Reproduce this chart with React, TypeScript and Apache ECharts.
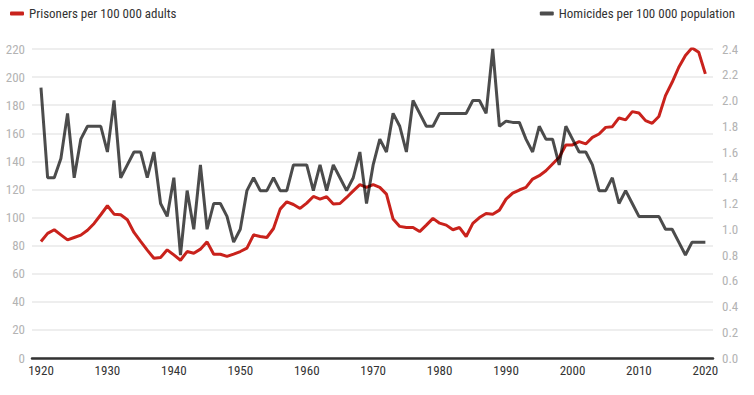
import React, { useEffect, useRef } from "react";
import * as echarts from "echarts";

const startYear = 1920;
const endYear = 2020;
const years: number[] = Array.from({ length: endYear - startYear + 1 }, (_, i) => startYear + i);

const prisonersName = "Prisoners per 100 000 adults";
const homicidesName = "Homicides per 100 000 population";

// Prisoners per 100 000 adults, 1920–2020 (left axis)
const prisoners: number[] = [
  83, 88.7, 91.3, 87.7, 84.1, 85.8, 87.5, 91, 95.8, 102,
  108.4, 102.4, 102, 98.4, 89.4, 83, 76.8, 71, 71.5, 77,
  73.4, 69.6, 75.8, 74.6, 77.5, 82.7, 73.9, 73.9, 72.3, 74,
  75.8, 78.2, 87.7, 86.5, 85.8, 92.2, 106, 111.2, 109.3, 106.5,
  110.3, 115, 113.1, 114.8, 109.6, 110, 114.3, 119, 123.4, 121.5,
  123.4, 121.5, 116.7, 98.9, 93.7, 92.9, 92.9, 90, 94.6, 99.4,
  96, 94.6, 91.3, 92.9, 86.5, 95.8, 100, 102.9, 102.4, 105.3,
  113.1, 117.4, 119.6, 121.5, 127.4, 129.8, 133.3, 138.1, 142.9, 151.7,
  151.7, 154, 152.4, 157.1, 159.5, 164.2, 164.7, 170.9, 169.5, 175.4,
  174.5, 169, 167.1, 171.9, 186.8, 196.3, 207, 215.4, 220.8, 217.7,
  202.3,
];

// Homicides per 100 000 population, 1920–2020 (right axis)
const homicides: number[] = [
  2.1, 1.4, 1.4, 1.55, 1.9, 1.4, 1.7, 1.8, 1.8, 1.8,
  1.6, 2.0, 1.4, 1.5, 1.6, 1.6, 1.4, 1.6, 1.2, 1.1,
  1.4, 0.8, 1.3, 1.0, 1.5, 1.0, 1.2, 1.2, 1.1, 0.9,
  1.0, 1.3, 1.4, 1.3, 1.3, 1.4, 1.3, 1.3, 1.5, 1.5,
  1.5, 1.3, 1.5, 1.3, 1.5, 1.4, 1.3, 1.4, 1.6, 1.2,
  1.5, 1.7, 1.6, 1.9, 1.8, 1.6, 2.0, 1.9, 1.8, 1.8,
  1.9, 1.9, 1.9, 1.9, 1.9, 2.0, 2.0, 1.9, 2.4, 1.8,
  1.84, 1.83, 1.83, 1.7, 1.6, 1.8, 1.7, 1.7, 1.5, 1.8,
  1.7, 1.6, 1.6, 1.5, 1.3, 1.3, 1.4, 1.2, 1.3, 1.2,
  1.1, 1.1, 1.1, 1.1, 1.0, 1.0, 0.9, 0.8, 0.9, 0.9,
  0.9,
];

const FONT = "'Liberation Sans Narrow', 'Roboto Condensed', Roboto, sans-serif";
const RED = "#c9221c";
const GRAY = "rgba(0,0,0,0.7)";

export default function App() {
  const ref = useRef<HTMLDivElement>(null);

  useEffect(() => {
    if (!ref.current) return;
    const chart = echarts.init(ref.current, undefined, { renderer: "svg" });
    chart.setOption({
      animation: false,
      textStyle: { fontFamily: FONT },
      legend: [
        {
          data: [prisonersName],
          left: 10,
          top: 7,
          padding: 0,
          icon: "roundRect",
          itemWidth: 14,
          itemHeight: 4,
          itemGap: 5,
          textStyle: { fontFamily: FONT, fontSize: 13, color: "#333" },
        },
        {
          data: [homicidesName],
          right: 19,
          top: 7,
          padding: 0,
          icon: "roundRect",
          itemWidth: 14,
          itemHeight: 4,
          textStyle: { fontFamily: FONT, fontSize: 13, color: "#333" },
        },
      ],
      grid: { left: 32, right: 41, top: 49, bottom: 37, containLabel: false },
      xAxis: {
        type: "value",
        min: 1918.65,
        max: 2021.15,
        splitNumber: 10,
        axisLine: { show: true, lineStyle: { color: "#333", width: 2.5 } },
        axisTick: { show: false },
        splitLine: { show: false },
        axisLabel: {
          fontFamily: FONT,
          fontSize: 13,
          color: "#333",
          margin: 6,
          showMinLabel: false,
          showMaxLabel: false,
          formatter: (v: number) => (Math.abs(v % 10) < 1e-6 ? String(v) : ""),
        },
      },
      yAxis: [
        {
          type: "value",
          min: 0,
          max: 220,
          interval: 20,
          axisLine: { show: false },
          axisTick: { show: false },
          axisLabel: { fontFamily: FONT, fontSize: 13, color: "#b3b3b3", margin: 7 },
          splitLine: { show: true, lineStyle: { color: "#e8e8e8", width: 1.5 } },
        },
        {
          type: "value",
          min: 0,
          max: 2.4,
          interval: 0.2,
          position: "right",
          axisLine: { show: false },
          axisTick: { show: false },
          axisLabel: {
            fontFamily: FONT,
            fontSize: 13,
            color: "#b3b3b3",
            margin: 9,
            formatter: (v: number) => v.toFixed(1),
          },
          splitLine: { show: false },
        },
      ],
      series: [
        {
          name: prisonersName,
          type: "line",
          yAxisIndex: 0,
          color: RED,
          showSymbol: false,
          lineStyle: { width: 3, color: RED },
          data: years.map((y, i) => [y, prisoners[i]]),
        },
        {
          name: homicidesName,
          type: "line",
          yAxisIndex: 1,
          color: GRAY,
          showSymbol: false,
          lineStyle: { width: 3, color: GRAY },
          data: years.map((y, i) => [y, homicides[i]]),
        },
      ],
    });
    return () => chart.dispose();
  }, []);

  return <div ref={ref} style={{ width: 754, height: 395, position: "absolute", left: 0, top: 0 }} />;
}
